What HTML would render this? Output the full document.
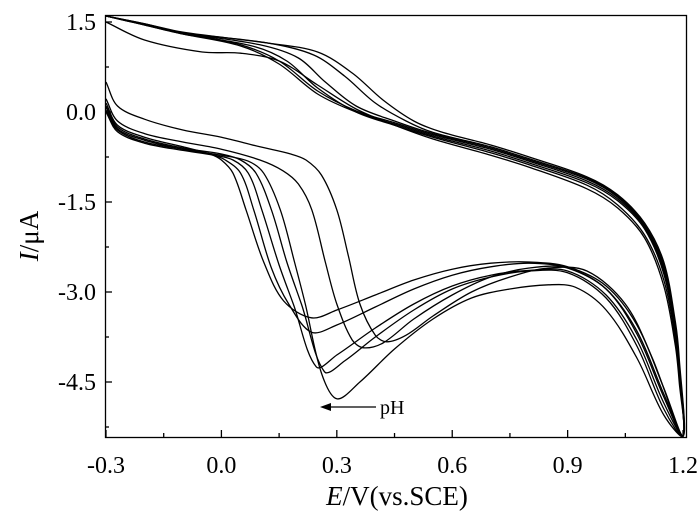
<!DOCTYPE html>
<html><head><meta charset="utf-8"><style>
html,body{margin:0;padding:0;background:#fff;}
svg{display:block;font-family:"Liberation Serif",serif;}
</style></head><body>
<svg id="chart" width="700" height="515" viewBox="0 0 700 515" xmlns="http://www.w3.org/2000/svg">
<g id="curves"></g>
<rect x="105.5" y="15.5" width="581" height="422" fill="none" stroke="#000" stroke-width="1.3"/>
<g id="axes"></g>
<g>
<line x1="376" y1="407" x2="328" y2="407" stroke="#000" stroke-width="1.3"/>
<polygon points="320,407 331,403 331,411" fill="#000"/>
<text x="380" y="414" font-size="20">pH</text>
</g>
<text x="397" y="505" font-size="27" text-anchor="middle"><tspan font-style="italic">E</tspan>/V(vs.SCE)</text>
<text transform="translate(38,236) rotate(-90)" font-size="27" text-anchor="middle"><tspan font-style="italic">I</tspan>/μA</text>
</svg>
<script>
const xTicks=[-0.3,0.0,0.3,0.6,0.9,1.2];
const xTickLabels=["-0.3","0.0","0.3","0.6","0.9","1.2"];
const yTicks=[1.5,0.0,-1.5,-3.0,-4.5];
const yTickLabels=["1.5","0.0","-1.5","-3.0","-4.5"];
const c1=[[-0.3,0.15],[-0.27,-0.22],[-0.2,-0.42],[-0.1,-0.58],[-0.03,-0.7],[0.0,-0.8],[0.03,-1.02],[0.064,-1.63],[0.11,-2.5],[0.162,-3.15],[0.234,-3.43],[0.3,-3.3],[0.4,-3.05],[0.5,-2.8],[0.6,-2.62],[0.7,-2.52],[0.8,-2.5],[0.9,-2.58],[1.0,-2.9],[1.08,-3.55],[1.15,-4.6],[1.2,-5.4],[1.19,-4.3],[1.18,-3.7],[1.15,-2.7],[1.1,-1.95],[1.03,-1.48],[0.95,-1.18],[0.8,-0.85],[0.7,-0.65],[0.55,-0.4],[0.45,-0.2],[0.35,0.0],[0.25,0.3],[0.15,0.8],[0.05,1.1],[-0.1,1.3],[-0.2,1.45],[-0.3,1.6]];
const c2=[[-0.3,0.08],[-0.27,-0.28],[-0.2,-0.47],[-0.1,-0.62],[-0.03,-0.7],[0.01,-0.8],[0.05,-1.02],[0.084,-1.63],[0.13,-2.6],[0.175,-3.2],[0.234,-3.67],[0.3,-3.55],[0.4,-3.25],[0.5,-2.95],[0.6,-2.72],[0.7,-2.58],[0.8,-2.52],[0.9,-2.6],[1.0,-2.95],[1.08,-3.65],[1.15,-4.7],[1.2,-5.4],[1.19,-4.3],[1.18,-3.65],[1.15,-2.65],[1.1,-1.92],[1.03,-1.45],[0.95,-1.15],[0.8,-0.82],[0.7,-0.62],[0.55,-0.38],[0.45,-0.18],[0.35,0.02],[0.25,0.35],[0.15,0.85],[0.05,1.12],[-0.1,1.32],[-0.2,1.46],[-0.3,1.6]];
const c3=[[-0.3,0.0],[-0.27,-0.33],[-0.2,-0.52],[-0.1,-0.64],[-0.02,-0.72],[0.03,-0.8],[0.07,-1.02],[0.105,-1.63],[0.15,-2.55],[0.187,-3.2],[0.247,-4.25],[0.3,-4.05],[0.4,-3.6],[0.5,-3.2],[0.6,-2.9],[0.7,-2.72],[0.8,-2.64],[0.9,-2.65],[1.0,-3.05],[1.08,-3.8],[1.15,-4.85],[1.2,-5.4],[1.19,-4.4],[1.18,-3.8],[1.15,-2.8],[1.1,-2.05],[1.03,-1.55],[0.95,-1.22],[0.8,-0.88],[0.7,-0.68],[0.55,-0.42],[0.45,-0.22],[0.35,0.0],[0.25,0.4],[0.17,0.85],[0.08,1.1],[-0.1,1.3],[-0.2,1.45],[-0.3,1.6]];
const c4=[[-0.3,0.1],[-0.27,-0.25],[-0.2,-0.45],[-0.1,-0.6],[0.0,-0.7],[0.05,-0.8],[0.09,-1.02],[0.13,-1.63],[0.17,-2.5],[0.208,-3.2],[0.268,-4.33],[0.32,-4.15],[0.4,-3.75],[0.5,-3.3],[0.6,-2.95],[0.7,-2.75],[0.8,-2.65],[0.9,-2.68],[1.0,-3.1],[1.08,-3.9],[1.15,-4.95],[1.2,-5.4],[1.19,-4.2],[1.18,-3.6],[1.15,-2.6],[1.1,-1.9],[1.03,-1.42],[0.95,-1.12],[0.8,-0.8],[0.7,-0.6],[0.55,-0.36],[0.45,-0.15],[0.35,0.1],[0.27,0.5],[0.2,0.9],[0.1,1.12],[-0.1,1.32],[-0.2,1.47],[-0.3,1.6]];
const c5=[[-0.3,0.03],[-0.27,-0.3],[-0.2,-0.5],[-0.1,-0.62],[0.0,-0.72],[0.07,-0.82],[0.11,-1.02],[0.153,-1.63],[0.19,-2.5],[0.218,-3.2],[0.26,-4.35],[0.30,-4.78],[0.36,-4.5],[0.45,-3.95],[0.55,-3.45],[0.65,-3.1],[0.75,-2.95],[0.85,-2.88],[0.92,-2.92],[1.0,-3.3],[1.08,-4.1],[1.15,-5.05],[1.2,-5.4],[1.19,-4.5],[1.18,-3.9],[1.15,-2.9],[1.1,-2.1],[1.03,-1.6],[0.95,-1.28],[0.8,-0.92],[0.7,-0.72],[0.55,-0.45],[0.45,-0.22],[0.35,0.05],[0.25,0.45],[0.15,0.85],[0.05,0.98],[-0.05,1.0],[-0.2,1.2],[-0.3,1.5]];
const c6=[[-0.3,0.22],[-0.27,-0.15],[-0.2,-0.36],[-0.1,-0.5],[0,-0.62],[0.1,-0.8],[0.16,-0.98],[0.2,-1.2],[0.235,-1.63],[0.27,-2.5],[0.30,-3.2],[0.34,-3.8],[0.37,-3.93],[0.42,-3.85],[0.5,-3.45],[0.6,-3.05],[0.7,-2.75],[0.8,-2.6],[0.9,-2.6],[1.0,-2.95],[1.08,-3.7],[1.15,-4.75],[1.2,-5.4],[1.19,-4.2],[1.18,-3.55],[1.15,-2.55],[1.1,-1.88],[1.03,-1.4],[0.95,-1.1],[0.8,-0.78],[0.7,-0.58],[0.55,-0.34],[0.48,-0.15],[0.4,0.15],[0.32,0.6],[0.24,0.95],[0.12,1.15],[-0.1,1.32],[-0.2,1.46],[-0.3,1.6]];
const c7=[[-0.3,0.5],[-0.27,0.1],[-0.2,-0.12],[-0.1,-0.3],[0,-0.42],[0.1,-0.58],[0.18,-0.7],[0.22,-0.8],[0.26,-1.05],[0.30,-1.63],[0.33,-2.4],[0.36,-3.2],[0.40,-3.72],[0.43,-3.83],[0.48,-3.72],[0.55,-3.4],[0.65,-3.0],[0.75,-2.75],[0.85,-2.6],[0.95,-2.65],[1.05,-3.2],[1.12,-4.1],[1.2,-5.4],[1.19,-4.1],[1.18,-3.5],[1.15,-2.5],[1.1,-1.85],[1.03,-1.38],[0.95,-1.08],[0.8,-0.75],[0.7,-0.55],[0.57,-0.33],[0.5,-0.15],[0.42,0.2],[0.34,0.65],[0.25,1.0],[0.12,1.15],[-0.1,1.33],[-0.2,1.47],[-0.3,1.6]];
const seriesList=[c1,c2,c3,c4,c5,c6,c7];
const NS="http://www.w3.org/2000/svg";
function xs(v){return 106+(v+0.3)*384.7;}
function ys(i){return 112-i*60;}
const cg=document.getElementById('curves');
seriesList.forEach((s,k)=>{
  const p=s.map(d=>[xs(d[0]),ys(d[1])]);
  let d="M"+p[0][0].toFixed(1)+","+p[0][1].toFixed(1);
  for(let i=0;i<p.length-1;i++){
    const p0=p[Math.max(0,i-1)],p1=p[i],p2=p[i+1],p3=p[Math.min(p.length-1,i+2)];
    const d01=Math.hypot(p1[0]-p0[0],p1[1]-p0[1])||1,d12=Math.hypot(p2[0]-p1[0],p2[1]-p1[1])||1,d23=Math.hypot(p3[0]-p2[0],p3[1]-p2[1])||1;
    const a=[p1[0]+(p2[0]-p0[0])*d12/(d01+d12)/3,p1[1]+(p2[1]-p0[1])*d12/(d01+d12)/3];
    const b=[p2[0]-(p3[0]-p1[0])*d12/(d12+d23)/3,p2[1]-(p3[1]-p1[1])*d12/(d12+d23)/3];
    d+=" C"+a[0].toFixed(1)+","+a[1].toFixed(1)+" "+b[0].toFixed(1)+","+b[1].toFixed(1)+" "+p2[0].toFixed(1)+","+p2[1].toFixed(1);
  }
  const path=document.createElementNS(NS,'path');
  path.setAttribute('d',d);
  path.setAttribute('fill','none');
  path.setAttribute('stroke','#000');
  path.setAttribute('stroke-width','1.3');
  
  
  cg.appendChild(path);
});
const ag=document.getElementById('axes');
function mk(tag,attrs,name){
  const e=document.createElementNS(NS,tag);
  for(const k in attrs)e.setAttribute(k,attrs[k]);
  
  
  ag.appendChild(e);return e;
}
xTicks.forEach((v,i)=>{
  const x=xs(v);
  mk('line',{x1:x,x2:x,y1:437,y2:430,stroke:'#000','stroke-width':1.3},'x-tick');
  if(i<xTicks.length-1){const xm=xs(v+0.15);mk('line',{x1:xm,x2:xm,y1:437,y2:433,stroke:'#000','stroke-width':1.3},'x-minor-tick');}
  const t=mk('text',{x:x,y:473,'font-size':24,'text-anchor':'middle'},'x-tick-label');t.textContent=xTickLabels[i];
});
yTicks.forEach((v,i)=>{
  const y=ys(v);
  mk('line',{x1:105,x2:112,y1:y,y2:y,stroke:'#000','stroke-width':1.3},'y-tick');
  const ym=ys(v-0.75);
  if(ym<437)mk('line',{x1:105,x2:109,y1:ym,y2:ym,stroke:'#000','stroke-width':1.3},'y-minor-tick');
  const t=mk('text',{x:96,y:y+8,'font-size':24,'text-anchor':'end'},'y-tick-label');t.textContent=yTickLabels[i];
});
</script>
</body></html>
